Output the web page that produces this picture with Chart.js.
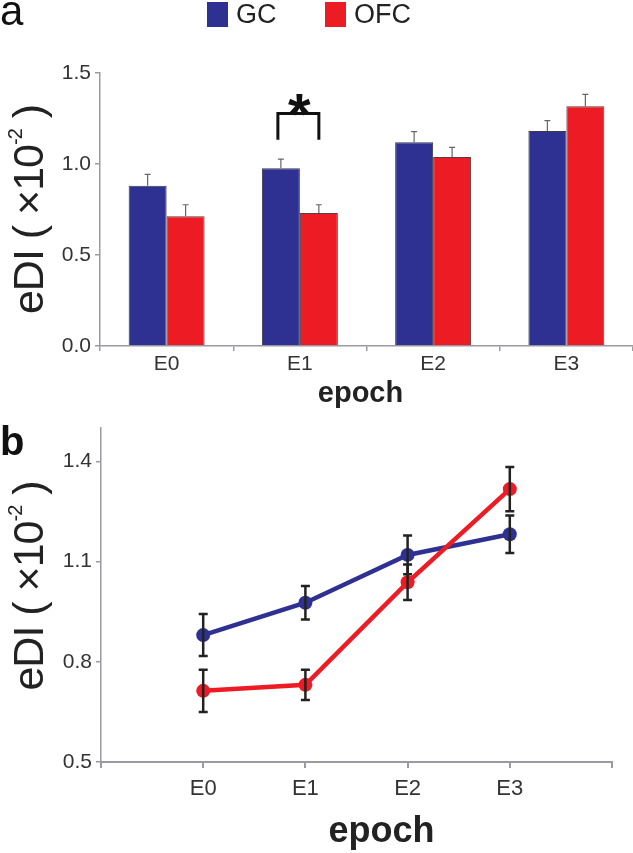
<!DOCTYPE html>
<html>
<head>
<meta charset="utf-8">
<script src="https://cdn.jsdelivr.net/npm/chart.js@4.4.1/dist/chart.umd.min.js"></script>
<style>
  html, body { margin: 0; padding: 0; background: #fff; }
  #wrap { position: relative; width: 633px; height: 853px; overflow: hidden; }
  canvas { position: absolute; left: 0; }
  #barChart { top: 0; }
  #lineChart { top: 400px; }
</style>
</head>
<body>
<div id="wrap">
  <canvas id="lineChart" width="633" height="453"></canvas>
  <canvas id="barChart" width="633" height="420"></canvas>
</div>
<script>
// values (eDI x 10^-2)
const epochs = ['E0', 'E1', 'E2', 'E3'];
const gcMean = [0.88, 0.977, 1.12, 1.182];
const ofcMean = [0.713, 0.731, 1.038, 1.317];
const gcSem = [0.063, 0.05, 0.058, 0.056];
const ofcSem = [0.063, 0.045, 0.053, 0.066];
const barTicks = [0, 0.5, 1.0, 1.5];
const lineTicks = [0.5, 0.8, 1.1, 1.4];
const sigIndex = 1; // * between GC and OFC at E1

const GC_COLOR = '#2e3192';
const OFC_COLOR = '#ed1c24';
const AXIS_COLOR = '#9a9aa2';
const FONT = "'Liberation Sans', Arial, Helvetica, sans-serif";

Chart.defaults.font.family = FONT;
Chart.defaults.color = '#333';

// mean +/- sem, drawn through the y scale
const errorBars = {
  id: 'errorBars',
  afterDatasetsDraw(chart, args, opts) {
    const { ctx } = chart;
    const y = chart.scales.y;
    ctx.save();
    ctx.strokeStyle = opts.color;
    ctx.lineWidth = opts.width;
    chart.data.datasets.forEach((ds, i) => {
      chart.getDatasetMeta(i).data.forEach((el, j) => {
        const raw = ds.data[j];
        const mean = typeof raw === 'object' ? raw.y : raw;
        const err = ds.errors[j];
        const top = y.getPixelForValue(mean + err);
        const bottom = opts.upperOnly ? y.getPixelForValue(mean) : y.getPixelForValue(mean - err);
        const half = opts.cap / 2;
        ctx.beginPath();
        ctx.moveTo(el.x, top);
        ctx.lineTo(el.x, bottom);
        ctx.moveTo(el.x - half, top);
        ctx.lineTo(el.x + half, top);
        if (!opts.upperOnly) {
          ctx.moveTo(el.x - half, bottom);
          ctx.lineTo(el.x + half, bottom);
        }
        ctx.stroke();
      });
    });
    ctx.restore();
  }
};

// panel letter, x title and the rotated y title with its superscript
const figureText = {
  id: 'figureText',
  afterDraw(chart, args, opts) {
    const { ctx, chartArea } = chart;
    ctx.save();
    ctx.fillStyle = '#111';
    ctx.textBaseline = 'alphabetic';
    ctx.textAlign = 'left';
    ctx.font = opts.letterFont;
    ctx.fillText(opts.letter, opts.letterX, opts.letterY);

    ctx.textAlign = 'center';
    ctx.fillStyle = '#222';
    ctx.font = opts.titleFont;
    ctx.fillText('epoch', (chartArea.left + chartArea.right) / 2 + opts.titleShift, opts.titleY);

    // y title: eDI ( x10^-2 )
    const big = '43px ' + FONT;
    const small = '20px ' + FONT;
    const parts = [
      { t: 'eDI ( \u00d710', f: big, dy: 0 },
      { t: '-2', f: small, dy: -15 },
      { t: ' )', f: big, dy: 0 }
    ];
    if ('letterSpacing' in ctx) ctx.letterSpacing = '-1px';
    let total = 0;
    parts.forEach((p) => { ctx.font = p.f; p.w = ctx.measureText(p.t).width; total += p.w; });
    ctx.translate(31, (chartArea.top + chartArea.bottom) / 2 + opts.yTitleShift);
    ctx.rotate(-Math.PI / 2);
    ctx.textAlign = 'left';
    ctx.textBaseline = 'middle';
    let pos = -total / 2;
    parts.forEach((p) => {
      ctx.font = p.f;
      ctx.fillText(p.t, pos, p.dy);
      pos += p.w;
    });
    ctx.restore();
  }
};

// legend squares at the top of panel a
const topLegend = {
  id: 'topLegend',
  afterDraw(chart) {
    const { ctx } = chart;
    const slots = [207, 325];
    ctx.save();
    ctx.font = '27px ' + FONT;
    ctx.textBaseline = 'middle';
    ctx.textAlign = 'left';
    chart.data.datasets.forEach((ds, i) => {
      const x = slots[i];
      ctx.fillStyle = ds.backgroundColor;
      ctx.fillRect(x, 2, 21, 25);
      ctx.fillStyle = '#222';
      ctx.fillText(ds.label, x + 29, 16);
    });
    ctx.restore();
  }
};

// significance bracket above E1
const sigMark = {
  id: 'sigMark',
  afterDatasetsDraw(chart) {
    const { ctx } = chart;
    const y = chart.scales.y;
    const x0 = chart.getDatasetMeta(0).data[sigIndex].x - 3;
    const x1 = chart.getDatasetMeta(1).data[sigIndex].x;
    const top = y.getPixelForValue(1.278);
    const bottom = y.getPixelForValue(1.133);
    ctx.save();
    ctx.strokeStyle = '#111';
    ctx.lineWidth = 3;
    ctx.beginPath();
    ctx.moveTo(x0, bottom);
    ctx.lineTo(x0, top);
    ctx.lineTo(x1, top);
    ctx.lineTo(x1, bottom);
    ctx.stroke();
    ctx.fillStyle = '#111';
    ctx.font = 'bold 58px ' + FONT;
    ctx.textAlign = 'center';
    ctx.textBaseline = 'alphabetic';
    ctx.fillText('*', (x0 + x1) / 2 + 1, 134);
    ctx.restore();
  }
};

function yAxis(min, max, ticks, width) {
  return {
    min: min,
    max: max,
    afterBuildTicks: (s) => { s.ticks = ticks.map((v) => ({ value: v })); },
    afterFit: (s) => { s.width = width; },
    ticks: { font: { size: 21 }, color: '#333', padding: 4, callback: (v) => Number(v).toFixed(1) },
    grid: { drawOnChartArea: false, color: AXIS_COLOR, tickLength: 5, lineWidth: 1.5 },
    border: { color: AXIS_COLOR, width: 1.5 }
  };
}

new Chart(document.getElementById('barChart'), {
  type: 'bar',
  data: {
    labels: epochs,
    datasets: [
      { label: 'GC', data: gcMean, errors: gcSem, backgroundColor: GC_COLOR, borderColor: '#3a3a4a', borderWidth: 1 },
      { label: 'OFC', data: ofcMean, errors: ofcSem, backgroundColor: OFC_COLOR, borderColor: '#5a3a3a', borderWidth: 1 }
    ]
  },
  options: {
    responsive: false,
    animation: false,
    layout: { padding: { top: 73, right: 0, bottom: 0, left: 0 } },
    datasets: { bar: { categoryPercentage: 0.57, barPercentage: 1.0 } },
    scales: {
      x: {
        afterFit: (s) => { s.height = 74; },
        ticks: { font: { size: 21 }, color: '#333', padding: 1 },
        grid: { offset: true, drawOnChartArea: false, color: AXIS_COLOR, tickLength: 5, lineWidth: 1.5 },
        border: { color: AXIS_COLOR, width: 1.5 }
      },
      y: yAxis(0, 1.5, barTicks, 100)
    },
    plugins: {
      legend: { display: false },
      tooltip: { enabled: false },
      errorBars: { color: '#666', width: 1.2, cap: 6, upperOnly: true },
      figureText: {
        letter: 'a', letterX: 0, letterY: 25, letterFont: '42px ' + FONT,
        titleFont: 'bold 29px ' + FONT, titleY: 402, titleShift: -6, yTitleShift: 0
      }
    }
  },
  plugins: [errorBars, sigMark, topLegend, figureText]
});

new Chart(document.getElementById('lineChart'), {
  type: 'line',
  data: {
    datasets: [
      { label: 'GC', data: gcMean.map((v, i) => ({ x: i, y: v })), errors: gcSem, borderColor: GC_COLOR, backgroundColor: GC_COLOR, order: 1 },
      { label: 'OFC', data: ofcMean.map((v, i) => ({ x: i, y: v })), errors: ofcSem, borderColor: OFC_COLOR, backgroundColor: OFC_COLOR, order: 0 }
    ]
  },
  options: {
    responsive: false,
    animation: false,
    layout: { padding: { top: 28, right: 21, bottom: 0, left: 0 } },
    elements: {
      line: { borderWidth: 4.5, tension: 0 },
      point: { radius: 7, borderWidth: 0 }
    },
    scales: {
      x: {
        type: 'linear',
        min: -1,
        max: 4,
        afterFit: (s) => { s.height = 91; },
        ticks: { stepSize: 1, font: { size: 22 }, color: '#333', padding: 8, callback: (v) => epochs[v] ?? '' },
        grid: { drawOnChartArea: false, color: AXIS_COLOR, tickLength: 6, lineWidth: 2 },
        border: { color: AXIS_COLOR, width: 2 }
      },
      y: yAxis(0.5, 1.5, lineTicks, 101)
    },
    plugins: {
      legend: { display: false },
      tooltip: { enabled: false },
      errorBars: { color: '#222', width: 2.5, cap: 9, upperOnly: false },
      figureText: {
        letter: 'b', letterX: 0, letterY: 55, letterFont: 'bold 40px ' + FONT,
        titleFont: 'bold 36px ' + FONT, titleY: 442, titleShift: 25, yTitleShift: -9
      }
    }
  },
  plugins: [errorBars, figureText]
});
</script>
</body>
</html>
